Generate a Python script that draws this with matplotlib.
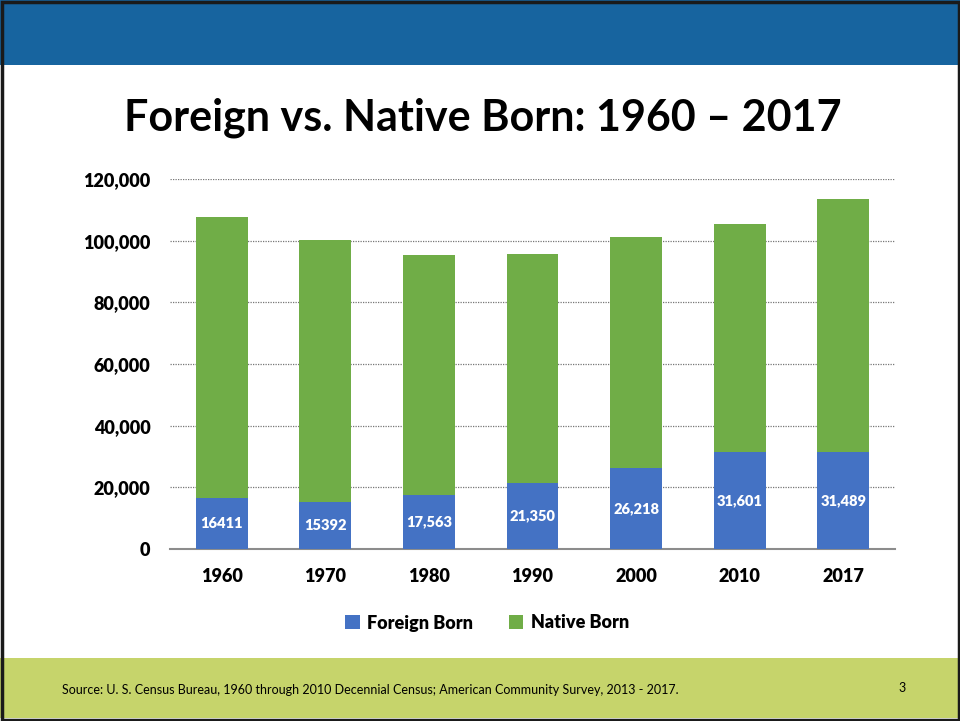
import matplotlib
matplotlib.use("Agg")
import matplotlib.pyplot as plt
from matplotlib.patches import Rectangle
from matplotlib.ticker import FuncFormatter

years = ["1960", "1970", "1980", "1990", "2000", "2010", "2017"]
foreign_born = [16411, 15392, 17563, 21350, 26218, 31601, 31489]
native_born = [91300, 84900, 77900, 74400, 75000, 73800, 82000]
foreign_labels = ["16411", "15392", "17,563", "21,350", "26,218", "31,601", "31,489"]

BLUE = "#4472C4"
GREEN = "#70AD47"
FONT = "Lato"

W, H = 960, 721
fig = plt.figure(figsize=(W / 100, H / 100), dpi=100)
fig.patch.set_facecolor("white")

# slide decorations
fig.patches.append(Rectangle((0, 1 - 65 / H), 1, 65 / H, transform=fig.transFigure,
                             facecolor="#17649F", edgecolor="none", zorder=0))
fig.patches.append(Rectangle((0, 3 / H), 1, (718 - 658) / H, transform=fig.transFigure,
                             facecolor="#C6D46B", edgecolor="none", zorder=0))
fig.patches.append(Rectangle((1.5 / W, 1.5 / H), 1 - 3 / W, 1 - 3 / H, transform=fig.transFigure,
                             facecolor="none", edgecolor="#1a1a1a", linewidth=2.5, zorder=5))

fig.text(483 / W, 1 - 118 / H, "Foreign vs. Native Born: 1960 \u2013 2017", ha="center", va="center",
         fontsize=31, fontweight="bold", family=FONT, color="black")

ax = fig.add_axes([170 / W, (H - 549) / H, (895 - 170) / W, (549 - 179) / H])
x = range(len(years))
ax.bar(x, foreign_born, width=0.5, color=BLUE, label="Foreign Born", zorder=3)
ax.bar(x, native_born, width=0.5, bottom=foreign_born, color=GREEN, label="Native Born", zorder=3)

for xi, v, lab in zip(x, foreign_born, foreign_labels):
    ax.text(xi, v / 2, lab, ha="center", va="center", color="white", fontsize=10.5,
            fontweight="heavy", family=FONT, zorder=4)

ax.set_xlim(-0.5, len(years) - 0.5)
ax.set_ylim(0, 120000)
ax.set_yticks(range(0, 120001, 20000))
ax.yaxis.set_major_formatter(FuncFormatter(lambda v, p: f"{int(v):,}"))
ax.set_xticks(list(x))
ax.set_xticklabels(years)
ax.grid(axis="y", linestyle=(0, (1, 1)), color="#777777", linewidth=0.9, zorder=0)
for s in ["top", "right", "left"]:
    ax.spines[s].set_visible(False)
ax.spines["bottom"].set_color("#8c8c8c")
ax.spines["bottom"].set_linewidth(1.5)
ax.tick_params(axis="both", length=0, labelsize=13)
ax.tick_params(axis="y", pad=14)
ax.tick_params(axis="x", pad=14)
for t in ax.get_xticklabels() + ax.get_yticklabels():
    t.set_fontweight("heavy")
    t.set_family(FONT)

leg = fig.legend(loc="center", bbox_to_anchor=(487 / W, 1 - 623 / H), ncol=2, frameon=False,
                 prop={"family": FONT, "weight": "heavy", "size": 13},
                 handlelength=0.8, handleheight=0.8, handletextpad=0.4, columnspacing=2.0)

fig.text(62 / W, 1 - 690 / H, "Source: U. S. Census Bureau, 1960 through 2010 Decennial Census; American Community Survey, 2013 - 2017.",
         ha="left", va="center", fontsize=9, family=FONT, color="black")
fig.text(902 / W, 1 - 688 / H, "3", ha="center", va="center", fontsize=9, family=FONT, color="black")

fig.savefig("out.png", dpi=100)
